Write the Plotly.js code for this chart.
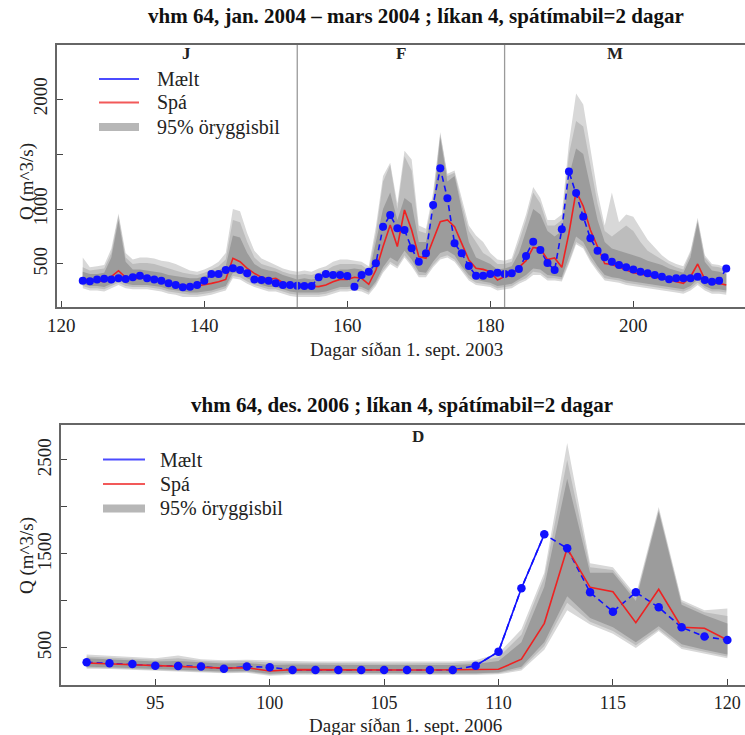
<!DOCTYPE html>
<html>
<head>
<meta charset="utf-8">
<script src="https://cdn.plot.ly/plotly-3.0.1.min.js"></script>
<style>
html,body{margin:0;padding:0;overflow:hidden;background:#fff;}
#chart{width:760px;height:735px;}
</style>
</head>
<body>
<div id="chart"></div>
<script>
// ---------- DATA: panel 1 (jan - mars 2004), days since 1 Sept 2003 ----------
const topStart = 123, topEnd = 213;
const topMeasured = [348,342,360,366,360,370,364,379,394,370,360,348,324,309,288,294,309,348,409,409,445,
  461,445,415,360,354,348,324,309,309,303,300,300,379,409,400,400,391,294,400,430,506,
  839,945,824,809,642,521,597,1036,1370,1097,688,597,482,394,394,409,421,409,415,455,573,
  703,627,509,445,815,1340,1145,930,733,621,561,521,491,470,451,430,415,400,385,361,370,
  370,370,385,355,339,348,460];
const topForecast = [370,348,348,339,385,439,379,366,370,379,370,348,330,318,306,300,300,309,324,339,360,
  552,521,461,415,379,360,370,330,309,294,300,294,294,309,339,360,360,379,370,315,445,
  658,854,658,991,809,567,551,718,885,900,839,688,536,461,451,430,355,385,400,470,530,
  650,640,540,555,470,780,1160,1025,809,657,505,495,470,439,421,409,391,379,370,355,339,
  324,385,500,360,330,324,309];
const topDarkLo = [320,300,300,290,320,360,320,310,310,310,300,290,270,260,250,240,240,250,260,280,300,
  420,420,370,340,310,290,290,270,250,240,240,240,240,250,270,290,290,300,290,260,340,
  470,560,520,620,540,430,420,520,600,620,580,480,400,360,340,330,300,310,320,360,400,
  460,450,400,390,380,560,750,700,580,480,400,380,370,350,340,330,320,310,300,290,280,
  270,300,360,300,270,270,260];
const topDarkHi = [430,410,410,420,560,900,520,450,450,440,430,420,400,390,380,370,370,390,410,440,480,
  760,740,600,500,460,440,430,400,380,360,370,360,370,400,430,450,450,460,450,400,700,
  1000,1150,900,1100,1050,700,700,1000,1650,1250,1300,1000,700,560,530,500,450,460,480,600,800,
  1000,950,800,750,800,1300,1550,1500,1200,900,700,640,620,600,580,560,530,510,490,460,440,
  420,560,880,520,440,430,410];
const topMidLo = [300,280,280,270,300,330,300,290,290,290,280,270,250,240,230,220,220,230,240,260,280,
  390,380,340,310,290,270,270,250,230,220,220,220,220,230,250,270,270,280,270,240,320,
  440,520,480,580,500,400,400,490,560,580,540,450,370,330,320,310,280,290,300,340,370,
  430,420,370,370,360,520,700,660,540,450,370,360,350,330,320,310,300,290,280,270,260,
  250,280,330,280,250,250,240];
const topMidHi = [470,440,450,460,600,940,560,500,510,510,500,480,460,440,420,410,400,420,450,480,540,
  900,880,700,560,500,480,460,430,410,400,410,400,420,440,480,500,500,500,490,440,780,
  1250,1400,1000,1480,1350,800,780,1100,1680,1300,1330,1050,800,700,600,560,500,500,520,700,900,
  1150,1050,850,850,900,1500,1800,1750,1400,1050,800,750,800,850,800,700,620,580,540,500,470,
  450,600,900,560,480,470,440];
const topLightLo = [280,260,260,250,280,310,280,270,270,270,260,250,230,220,200,200,200,210,220,240,260,
  370,360,320,290,270,250,250,230,210,200,200,200,200,210,230,250,250,260,250,220,300,
  420,500,460,560,480,380,380,470,540,560,520,430,350,310,300,290,260,270,280,320,350,
  400,400,350,350,340,500,680,640,520,430,350,340,330,310,300,290,280,270,260,250,240,
  230,260,310,260,230,230,220];
const topLightHi = [560,470,480,490,640,960,600,540,560,560,550,530,520,500,470,440,430,450,480,520,600,
  1000,980,780,620,550,520,490,460,440,430,440,430,460,480,520,540,540,530,520,480,840,
  1300,1420,1050,1530,1450,850,820,1150,1700,1320,1350,1100,850,760,700,600,540,530,550,750,950,
  1200,1100,900,900,950,1600,2050,1950,1550,1150,850,1150,880,950,930,820,720,650,580,530,500,
  480,620,920,580,500,490,460];
const topTicksX = [120,140,160,180,200];
const topTicksY = [500,1000,1500,2000];
const topTickTextY = ['500','1000','','2000'];
const topMonthBounds = [153,182];
const topMonthLabels = ['J','F','M'];
const topMonthCenters = [137.5,167.5,197.5];

// ---------- DATA: panel 2 (des. 2006), days since 1 Sept 2006 ----------
const botStart = 92, botEnd = 120;
const botMeasured = [348,337,330,312,309,302,280,302,295,266,266,266,266,266,266,266,266,312,461,1135,1709,
  1560,1092,886,1092,932,720,621,585];
const botForecast = [340,330,325,310,305,295,285,290,255,270,268,268,266,266,266,266,266,266,273,380,762,
  1560,1145,1099,769,1124,720,709,585];
const botDarkLo = [300,295,290,275,270,260,250,255,225,235,235,235,232,232,232,232,232,232,240,300,560,
  1050,820,720,560,730,540,480,430];
const botDarkHi = [390,380,370,355,360,345,335,340,320,325,320,320,318,318,318,318,320,330,360,560,1150,
  2300,1300,1300,1000,1950,960,850,760];
const botMidLo = [290,285,280,265,260,250,240,245,215,225,225,225,222,222,222,222,222,222,230,280,520,
  980,780,680,530,700,510,460,410];
const botMidHi = [410,400,390,375,390,365,355,360,345,345,340,340,338,335,335,335,340,350,400,640,1250,
  2500,1360,1330,1030,1970,990,880,840];
const botLightLo = [280,275,270,255,250,240,230,235,205,215,215,215,212,212,212,212,212,212,220,260,480,
  900,750,650,500,680,490,440,390];
const botLightHi = [430,420,405,390,420,380,370,375,365,360,355,355,352,350,350,350,355,370,440,700,1300,
  2680,1400,1360,1060,2000,1010,900,920];
const botSolidFrom = 109, botSolidTo = 112;   // part of the measured line drawn solid
const botTicksX = [95,100,105,110,115,120];
const botTicksY = [500,1000,1500,2000,2500];
const botTickTextY = ['500','','1500','','2500'];
const botMonthLabels = ['D'];
const botMonthCenters = [106.5];

const legendLabels = ['Mælt','Spá','95% öryggisbil'];
const titles = ['vhm 64, jan. 2004 \u2013 mars 2004 ; líkan 4, spátímabil=2 dagar',
                'vhm 64, des. 2006 ; líkan 4, spátímabil=2 dagar'];
const xTitles = ['Dagar síðan 1. sept. 2003','Dagar síðan 1. sept. 2006'];
const yTitle = 'Q (m^3/s)';

// ---------- helpers ----------
const W = 760, H = 735;
const FONT = '"Liberation Serif", "Times New Roman", Times, serif';
const BLUE = '#1010ff', RED = '#ee2222';
const C_LIGHT = '#d8d8d8', C_MID = '#bdbdbd', C_DARK = '#9c9c9c';
function days(a, b){ const d=[]; for(let i=a;i<=b;i++) d.push(i); return d; }
function band(x, lo, hi, color, xa, ya){
  return {x: x.concat(x.slice().reverse()), y: hi.concat(lo.slice().reverse()),
    fill:'toself', fillcolor: color, mode:'lines', line:{width:0, color: color},
    hoverinfo:'skip', showlegend:false, xaxis:xa, yaxis:ya};
}
const px = x => x / W, py = y => 1 - y / H;

const tX = days(topStart, topEnd), bX = days(botStart, botEnd);
const traces = [];
function panel(x, lo1, hi1, lo2, hi2, lo3, hi3, fc, ms, xa, ya){
  traces.push(band(x, lo1, hi1, C_LIGHT, xa, ya));
  traces.push(band(x, lo2, hi2, C_MID, xa, ya));
  traces.push(band(x, lo3, hi3, C_DARK, xa, ya));
  traces.push({x:x, y:ms, mode:'lines', line:{color:BLUE, width:1.6, dash:'6px,4px'},
    xaxis:xa, yaxis:ya, showlegend:false, hoverinfo:'skip'});
  traces.push({x:x, y:fc, mode:'lines', line:{color:RED, width:1.6},
    xaxis:xa, yaxis:ya, showlegend:false});
}
panel(tX, topLightLo, topLightHi, topMidLo, topMidHi, topDarkLo, topDarkHi, topForecast, topMeasured, 'x', 'y');
panel(bX, botLightLo, botLightHi, botMidLo, botMidHi, botDarkLo, botDarkHi, botForecast, botMeasured, 'x2', 'y2');
const i0 = bX.indexOf(botSolidFrom), i1 = bX.indexOf(botSolidTo);
traces.push({x:bX.slice(i0, i1+1), y:botMeasured.slice(i0, i1+1), mode:'lines',
  line:{color:BLUE, width:1.6}, xaxis:'x2', yaxis:'y2', showlegend:false});
traces.push({x:tX, y:topMeasured, mode:'markers', marker:{color:BLUE, size:8},
  xaxis:'x', yaxis:'y', showlegend:false});
traces.push({x:bX, y:botMeasured, mode:'markers', marker:{color:BLUE, size:8.5},
  xaxis:'x2', yaxis:'y2', showlegend:false});

const axFont = {family:FONT, size:19, color:'#222'};
const axCommon = {showgrid:false, zeroline:false, showline:true, linecolor:'#666', linewidth:2,
  mirror:true, ticks:'inside', ticklen:6, tickcolor:'#444', tickwidth:1, tickfont:axFont, fixedrange:true};

const shapes = [];
topMonthBounds.forEach(b => shapes.push({type:'line', xref:'x', yref:'y domain', x0:b, x1:b, y0:0, y1:1,
  line:{color:'#9a9a9a', width:1.3}, layer:'above'}));

const annotations = [];
const TSIZE = 21, LSIZE = 19;
annotations.push({text:'<b>'+titles[0]+'</b>', xref:'paper', yref:'paper', x:px(416), y:py(16),
  showarrow:false, font:{family:FONT, size:TSIZE, color:'#111'}, xanchor:'center', yanchor:'middle'});
annotations.push({text:'<b>'+titles[1]+'</b>', xref:'paper', yref:'paper', x:px(402), y:py(405),
  showarrow:false, font:{family:FONT, size:TSIZE, color:'#111'}, xanchor:'center', yanchor:'middle'});
annotations.push({text:xTitles[0], xref:'paper', yref:'paper', x:px(406), y:py(337),
  showarrow:false, font:{family:FONT, size:LSIZE, color:'#222'}, xanchor:'center', yanchor:'top'});
annotations.push({text:xTitles[1], xref:'paper', yref:'paper', x:px(405), y:py(713),
  showarrow:false, font:{family:FONT, size:LSIZE, color:'#222'}, xanchor:'center', yanchor:'top'});
annotations.push({text:yTitle, xref:'paper', yref:'paper', x:px(27), y:py(182), textangle:-90,
  showarrow:false, font:{family:FONT, size:LSIZE, color:'#222'}, xanchor:'center', yanchor:'middle'});
annotations.push({text:yTitle, xref:'paper', yref:'paper', x:px(27), y:py(556), textangle:-90,
  showarrow:false, font:{family:FONT, size:LSIZE, color:'#222'}, xanchor:'center', yanchor:'middle'});
topMonthLabels.forEach((m,i) => annotations.push({text:'<b>'+m+'</b>', xref:'x', yref:'paper',
  x:topMonthCenters[i], y:py(53), showarrow:false, font:{family:FONT, size:17, color:'#222'}, yanchor:'middle'}));
botMonthLabels.forEach((m,i) => annotations.push({text:'<b>'+m+'</b>', xref:'x2', yref:'paper',
  x:botMonthCenters[i], y:py(437), showarrow:false, font:{family:FONT, size:17, color:'#222'}, yanchor:'middle'}));

function legend(x0, x1, tx, ys){
  const cols = [BLUE, RED, '#b0b0b0'], widths = [2, 2, 8];
  ys.forEach((y,i) => {
    shapes.push({type:'line', xref:'paper', yref:'paper', x0:px(x0), x1:px(x1), y0:py(y), y1:py(y),
      line:{color:cols[i], width:widths[i]}, layer:'above', opacity: i==2?0.9:0.75});
    annotations.push({text:legendLabels[i], xref:'paper', yref:'paper', x:px(tx), y:py(y),
      showarrow:false, xanchor:'left', yanchor:'middle', font:{family:FONT, size:20, color:'#222'}});
  });
}
legend(99, 139, 155, [79, 102.5, 127]);
legend(103, 145, 158, [459.5, 484, 508.5]);

const layout = {
  width:W, height:H, margin:{l:0,r:0,t:0,b:0}, paper_bgcolor:'#fff', plot_bgcolor:'#fff',
  showlegend:false, font:{family:FONT},
  xaxis: Object.assign({}, axCommon, {domain:[px(57), px(752)], range:[119.4, 216.6], tickvals:topTicksX, anchor:'y'}),
  yaxis: Object.assign({}, axCommon, {domain:[py(307), py(45)], range:[109, 2491], tickvals:topTicksY,
    ticktext:topTickTextY, tickangle:-90, anchor:'x'}),
  xaxis2: Object.assign({}, axCommon, {domain:[px(61), px(753)], range:[90.88, 121.12], tickvals:botTicksX,
    anchor:'y2', tickfont:{family:FONT, size:18, color:'#222'}}),
  yaxis2: Object.assign({}, axCommon, {domain:[py(685), py(425)], range:[106, 2872], tickvals:botTicksY,
    ticktext:botTickTextY, tickangle:-90, anchor:'x2'}),
  shapes:shapes, annotations:annotations
};
Plotly.newPlot('chart', traces, layout, {displayModeBar:false, staticPlot:true});
</script>
</body>
</html>
